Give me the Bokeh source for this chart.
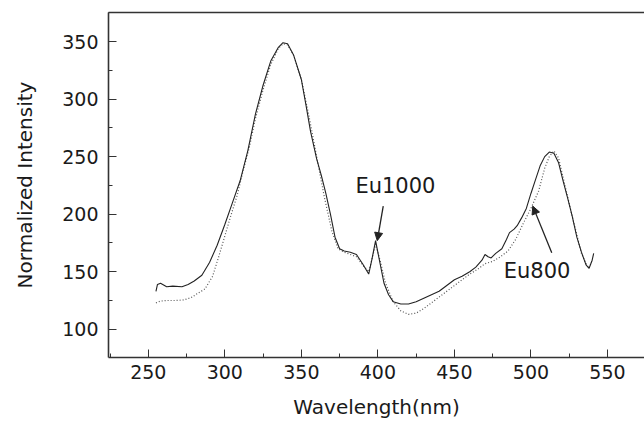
from bokeh.plotting import figure
from bokeh.models import Range1d, LinearAxis, Label, Arrow, NormalHead, FixedTicker
from bokeh.embed import file_html
from bokeh.resources import INLINE

# Eu1000 (solid curve)
eu1000_wl = [255, 256, 258, 262, 266, 272, 276, 280, 285, 290, 295, 300, 305, 310, 315,
             320, 325, 330, 335, 338, 341, 345, 350, 353, 356, 360, 363, 366, 369, 372,
             375, 378, 382, 386, 390, 394, 396, 398.5, 401, 404, 407, 410, 415, 420, 425,
             430, 435, 440, 445, 450, 455, 460, 464, 468, 470, 472, 474, 477, 481, 484,
             486, 489, 491, 494, 497, 500, 503, 506, 509, 512, 515, 518, 521, 524, 527,
             530, 533, 536, 538, 540, 541]
eu1000_int = [133, 139, 140, 137, 137.5, 137, 139, 142, 147, 158, 173, 191, 210, 229, 255,
              287, 312, 333, 345, 349, 348, 338, 317, 295, 272, 248, 234, 218, 200, 180,
              170, 168, 167, 165, 157, 148, 160, 177, 160, 140, 130, 124, 122, 122, 124,
              127, 130, 133, 138, 143, 146, 150, 154, 160, 165, 163, 162, 166, 170, 178,
              184, 187, 190, 197, 205, 218, 230, 242, 250, 254, 253, 245, 229, 214, 198,
              180, 167, 156, 153, 160, 166]

# Eu800 (dotted curve)
eu800_wl = [255, 258, 262, 268, 273, 278, 282, 287, 292, 296, 300, 304, 308, 312, 316,
            320, 325, 330, 335, 338, 341, 345, 350, 355, 360, 365, 370, 374, 378, 382,
            386, 390, 394, 396, 398.5, 402, 405, 410, 415, 420, 425, 430, 435, 440, 445,
            450, 455, 460, 465, 470, 475, 480, 485, 490, 495, 500, 505, 509, 512, 515,
            518, 521, 524, 527, 530, 533, 536, 538, 540]
eu800_int = [123, 124.5, 125, 125, 125.5, 127.5, 131, 135, 146, 163, 181, 199, 216, 238, 258,
             283, 308, 330, 344, 348, 347, 338, 317, 285, 250, 215, 185, 170, 167, 165,
             163, 156, 150, 160, 174, 157, 140, 124, 116, 113, 114, 118, 123, 128, 133,
             138, 143, 148, 152, 157, 159, 163, 168, 178, 192, 205, 220, 240, 250, 255,
             249, 232, 215, 198, 182, 166, 157, 153, 160]

x_ticks = [250, 300, 350, 400, 450, 500, 550]
y_ticks = [100, 150, 200, 250, 300, 350]

FONT = "DejaVu Sans"
INK = "#1a1a1a"

p = figure(width=644, height=423, output_backend="svg", toolbar_location=None,
           x_range=Range1d(224, 574.2), y_range=Range1d(75.5, 375.2),
           min_border_left=108, min_border_right=0, min_border_top=12,
           min_border_bottom=66, x_axis_label="Wavelength(nm)",
           y_axis_label="Normalized Intensity")
p.outline_line_color = None
p.grid.visible = False
p.background_fill_color = "white"
p.border_fill_color = "white"

for ax, ticks in ((p.xaxis[0], x_ticks), (p.yaxis[0], y_ticks)):
    ax.ticker = FixedTicker(ticks=ticks,
                            minor_ticks=[t + 25 for t in ticks] + [ticks[0] - 25])
    ax.major_tick_in = 8
    ax.major_tick_out = 0
    ax.minor_tick_in = 4
    ax.minor_tick_out = 0
    ax.axis_line_width = 1.6
    ax.axis_line_color = "#333333"
    ax.major_tick_line_color = "#333333"
    ax.minor_tick_line_color = "#333333"
    ax.major_label_text_font = FONT
    ax.major_label_text_font_size = "19px"
    ax.major_label_text_color = INK
    ax.axis_label_text_font = FONT
    ax.axis_label_text_font_size = "20px"
    ax.axis_label_text_font_style = "normal"
    ax.axis_label_text_color = INK

p.xaxis.major_label_standoff = 7
p.xaxis.axis_label_standoff = 13
p.yaxis.major_label_standoff = 10
p.yaxis.axis_label_standoff = 22

top = LinearAxis(ticker=FixedTicker(ticks=[]), major_label_text_font_size="0px",
                 major_tick_in=0, major_tick_out=0, minor_tick_in=0, minor_tick_out=0,
                 axis_line_width=1.6, axis_line_color="#333333")
p.add_layout(top, "above")

p.line(eu800_wl, eu800_int, line_color="#555555", line_width=1.2, line_dash="1 2")
p.line(eu1000_wl, eu1000_int, line_color="#222222", line_width=1.1)

p.add_layout(Label(x=385.3, y=214, text="Eu1000", text_font=FONT,
                   text_font_size="21px", text_color=INK))
p.add_layout(Label(x=482.2, y=140.5, text="Eu800", text_font=FONT,
                   text_font_size="21px", text_color=INK))

p.add_layout(Arrow(x_start=403.5, y_start=207, x_end=399.6, y_end=177,
                   line_color="#222222", line_width=1.3,
                   end=NormalHead(size=8, fill_color="#222222", line_color="#222222")))
p.add_layout(Arrow(x_start=513.6, y_start=166.4, x_end=501.2, y_end=207,
                   line_color="#222222", line_width=1.3,
                   end=NormalHead(size=8, fill_color="#222222", line_color="#222222")))

open("out.html", "w").write(file_html(p, INLINE))
